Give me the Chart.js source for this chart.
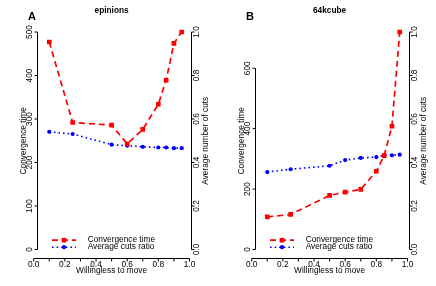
<!DOCTYPE html>
<html>
<head>
<meta charset="utf-8">
<script src="https://cdn.jsdelivr.net/npm/chart.js@4/dist/chart.umd.min.js"></script>
<style>
  html, body { margin: 0; padding: 0; background: #fff; }
  #wrap { position: relative; width: 436px; height: 286px; }
  canvas { position: absolute; top: 0; }
  #chartA { left: 0; }
  #chartB { left: 218px; }
</style>
</head>
<body>
<div id="wrap">
  <canvas id="chartA" width="218" height="286"></canvas>
  <canvas id="chartB" width="218" height="286"></canvas>
</div>
<script>
// willingness to move (x values, both panels)
const willingness = [0.1, 0.25, 0.5, 0.6, 0.7, 0.8, 0.85, 0.9, 0.95];

// panel A - epinions
const epinionsTime = [477, 292, 286, 243, 276, 334, 389, 474, 500];
const epinionsCuts = [0.541, 0.531, 0.482, 0.477, 0.472, 0.469, 0.469, 0.466, 0.466];

// panel B - 64kcube
const cubeTime = [108, 116, 179, 190, 199, 259, 311, 408, 720];
const cubeCuts = [0.356, 0.369, 0.385, 0.411, 0.421, 0.425, 0.433, 0.433, 0.436];

// ticks
const xTicks = [0, 0.1, 0.2, 0.3, 0.4, 0.5, 0.6, 0.7, 0.8, 0.9, 1.0];
const xTickLabels = ['0.0', '', '0.2', '', '0.4', '', '0.6', '', '0.8', '', '1.0'];
const timeTicksA = [0, 100, 200, 300, 400, 500];
const timeTicksB = [0, 200, 400, 600];
const cutsTicks = [0, 0.2, 0.4, 0.6, 0.8, 1.0];
const cutsTickLabels = ['0.0', '0.2', '0.4', '0.6', '0.8', '1.0'];

const FONT = '8.3px "Liberation Sans", Arial, sans-serif';
const BOLD = 'bold 8.3px "Liberation Sans", Arial, sans-serif';

function rotatedText(ctx, text, x, y) {
    ctx.save();
    ctx.translate(x, y);
    ctx.rotate(-Math.PI / 2);
    ctx.fillText(text, 0, 0);
    ctx.restore();
}

/**
 * R style axes, titles and legend, drawn from the chart's own scales
 */
const rAxesPlugin = {
    id: 'rAxes',
    afterDraw(chart, args, opts) {
        const ctx = chart.ctx;
        const area = chart.chartArea;
        const x = chart.scales.x;
        const yl = chart.scales.yTime;
        const yr = chart.scales.yCuts;
        const x0 = x.getPixelForValue(xTicks[0]);
        const x1 = x.getPixelForValue(xTicks[xTicks.length - 1]);
        const left = Math.round(area.left) - 0.5;
        const right = Math.round(area.right) + 0.5;
        const bottom = Math.round(area.bottom) + 0.5;

        ctx.save();
        ctx.strokeStyle = '#000';
        ctx.fillStyle = '#000';
        ctx.lineWidth = 1;

        // x axis
        ctx.beginPath();
        ctx.moveTo(x0, bottom);
        ctx.lineTo(x1, bottom);
        xTicks.forEach(t => {
            const px = x.getPixelForValue(t);
            ctx.moveTo(px, bottom);
            ctx.lineTo(px, bottom + 3);
        });
        // left axis
        const lt = opts.timeTicks;
        ctx.moveTo(left, yl.getPixelForValue(lt[0]));
        ctx.lineTo(left, yl.getPixelForValue(lt[lt.length - 1]));
        lt.forEach(t => {
            const py = yl.getPixelForValue(t);
            ctx.moveTo(left, py);
            ctx.lineTo(left - 3, py);
        });
        // right axis
        ctx.moveTo(right, yr.getPixelForValue(cutsTicks[0]));
        ctx.lineTo(right, yr.getPixelForValue(cutsTicks[cutsTicks.length - 1]));
        cutsTicks.forEach(t => {
            const py = yr.getPixelForValue(t);
            ctx.moveTo(right, py);
            ctx.lineTo(right + 3, py);
        });
        ctx.stroke();

        ctx.font = FONT;
        ctx.textAlign = 'center';
        ctx.textBaseline = 'middle';
        xTicks.forEach((t, i) => {
            if (xTickLabels[i]) ctx.fillText(xTickLabels[i], x.getPixelForValue(t), area.bottom + 6.3);
        });
        lt.forEach(t => rotatedText(ctx, String(t), area.left - 8.5, yl.getPixelForValue(t)));
        cutsTicks.forEach((t, i) => rotatedText(ctx, cutsTickLabels[i], area.right + 5.8, yr.getPixelForValue(t)));

        // axis titles
        const midY = (area.top + area.bottom) / 2;
        const midX = (x0 + x1) / 2;
        ctx.fillText('Willingless to move', midX, area.bottom + 12.6);
        rotatedText(ctx, 'Convergence time', area.left - 14, midY);
        rotatedText(ctx, 'Average number of cuts', area.right + 15, midY);

        // panel title and letter
        ctx.font = BOLD;
        ctx.fillText(opts.title, midX, 11);
        ctx.font = 'bold 11px "Liberation Sans", Arial, sans-serif';
        ctx.fillText(opts.letter, 32, 17);

        // legend
        ctx.font = FONT;
        ctx.textAlign = 'left';
        chart.data.datasets.forEach((ds, i) => {
            const ly = area.bottom - 18 + i * 7;
            ctx.save();
            ctx.strokeStyle = ds.borderColor;
            ctx.fillStyle = ds.borderColor;
            ctx.lineWidth = ds.borderWidth;
            ctx.setLineDash(ds.borderDash);
            ctx.beginPath();
            ctx.moveTo(x0 + 18.3, ly);
            ctx.lineTo(x0 + 42.3, ly);
            ctx.stroke();
            ctx.setLineDash([]);
            Chart.helpers.drawPoint(ctx, {
                pointStyle: ds.pointStyle,
                radius: ds.pointRadius,
                rotation: 0,
                borderWidth: 0
            }, x0 + 30.3, ly);
            ctx.restore();
            ctx.fillText(ds.label, x0 + 54, ly);
        });
        ctx.restore();
    }
};

function createPanel(canvas, letter, title, timeValues, cutsValues, timeTicks, timeMax) {
    return new Chart(canvas.getContext('2d'), {
        type: 'line',
        data: {
            datasets: [{
                label: 'Convergence time',
                data: willingness.map((w, i) => ({ x: w, y: timeValues[i] })),
                yAxisID: 'yTime',
                borderColor: '#ff0000',
                backgroundColor: '#ff0000',
                borderWidth: 1.7,
                borderDash: [6, 4],
                pointStyle: 'rect',
                pointRadius: 3.3,
                pointBorderWidth: 0,
                tension: 0
            }, {
                label: 'Average cuts ratio',
                data: willingness.map((w, i) => ({ x: w, y: cutsValues[i] })),
                yAxisID: 'yCuts',
                borderColor: '#0000ff',
                backgroundColor: '#0000ff',
                borderWidth: 1.6,
                borderDash: [1.6, 3],
                pointStyle: 'circle',
                pointRadius: 2.1,
                pointBorderWidth: 0,
                tension: 0
            }]
        },
        options: {
            responsive: false,
            animation: false,
            devicePixelRatio: 1,
            layout: {
                padding: { left: 38, right: 27.5, top: 23.3, bottom: 27.8 }
            },
            plugins: {
                legend: { display: false },
                tooltip: { enabled: false },
                rAxes: { letter: letter, title: title, timeTicks: timeTicks }
            },
            scales: {
                x: { type: 'linear', display: false, min: 0.0276, max: 1.0064 },
                yTime: { type: 'linear', display: false, min: -0.04 * timeMax, max: 1.04 * timeMax },
                yCuts: { type: 'linear', display: false, min: -0.04, max: 1.04 }
            }
        },
        plugins: [rAxesPlugin]
    });
}

createPanel(document.getElementById('chartA'), 'A', 'epinions', epinionsTime, epinionsCuts, timeTicksA, 500);
createPanel(document.getElementById('chartB'), 'B', '64kcube', cubeTime, cubeCuts, timeTicksB, 720);
</script>
</body>
</html>
